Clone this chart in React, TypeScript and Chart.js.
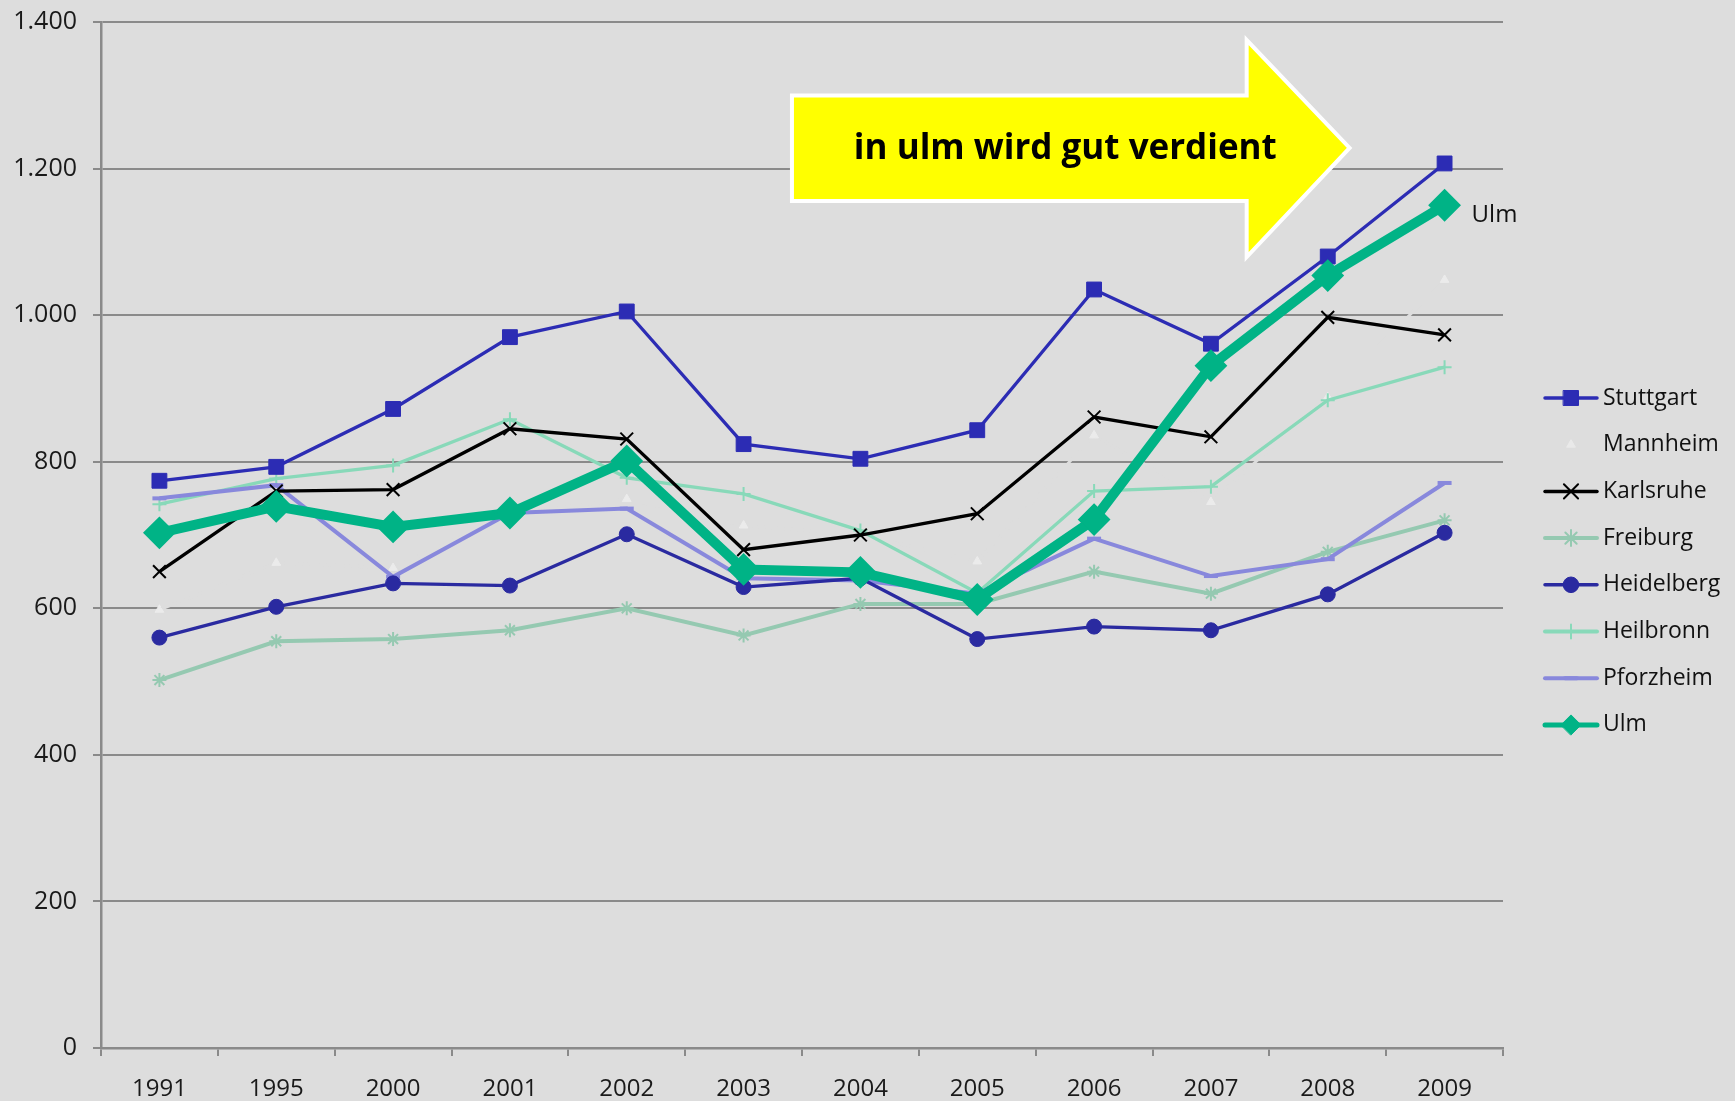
import React, { useEffect, useRef } from "react";
import { Chart, registerables } from "chart.js";
import { drawPoint } from "chart.js/helpers";

Chart.register(...registerables);

const years = ["1991", "1995", "2000", "2001", "2002", "2003", "2004", "2005", "2006", "2007", "2008", "2009"];
const stuttgart = [774, 793, 872, 970, 1005, 824, 804, 843, 1035, 961, 1080, 1207];
const mannheim = [598, 662, 655, 728, 749, 713, 700, 664, 836, 745, 888, 1048];
const karlsruhe = [650, 760, 762, 845, 831, 680, 700, 729, 861, 834, 997, 973];
const freiburg = [502, 555, 558, 570, 600, 563, 606, 606, 650, 620, 677, 720];
const heidelberg = [560, 602, 634, 631, 701, 629, 641, 558, 575, 570, 619, 703];
const heilbronn = [742, 777, 795, 858, 778, 756, 706, 621, 760, 766, 884, 929];
const pforzheim = [750, 768, 643, 730, 736, 641, 638, 620, 695, 644, 667, 771];
const ulm = [703, 739, 711, 730, 801, 653, 649, 612, 721, 931, 1054, 1150];

const yMin = 0;
const yMax = 1400;
const yStep = 200;

const arrowText = "in ulm wird gut verdient";
const endLabel = "Ulm";

const BG = "#dddddd";
const FONT = "'Open Sans', 'Noto Sans', sans-serif";

const fmt = (v: number) => String(v).replace(/\B(?=(\d{3})+(?!\d))/g, ".");

type LegendItem = { label: string; color: string; lw: number; style: string; r: number; bw: number; fill: string; line: boolean };

const overlayPlugin = {
  id: "overlay",
  afterDraw(chart: any) {
    const { ctx, chartArea, scales } = chart;
    const x = scales.x;
    const y = scales.y;
    const px = (i: number) => x.getPixelForValue(i);
    const py = (v: number) => y.getPixelForValue(v);

    // Arrow annotation (positions in category-index / value space)
    const bodyL = 5.414, headB = 9.306, tip = 10.187;
    const bodyT = 1299.7, bodyBt = 1155.7, headT = 1375.4, headBt = 1079.3, tipV = 1228.1;
    ctx.save();
    ctx.beginPath();
    ctx.moveTo(px(bodyL), py(bodyT));
    ctx.lineTo(px(headB), py(bodyT));
    ctx.lineTo(px(headB), py(headT));
    ctx.lineTo(px(tip), py(tipV));
    ctx.lineTo(px(headB), py(headBt));
    ctx.lineTo(px(headB), py(bodyBt));
    ctx.lineTo(px(bodyL), py(bodyBt));
    ctx.closePath();
    ctx.fillStyle = "#ffff00";
    ctx.fill();
    ctx.lineWidth = 4;
    ctx.lineJoin = "miter";
    ctx.strokeStyle = "#ffffff";
    ctx.stroke();
    ctx.fillStyle = "#000000";
    ctx.font = `bold 35px ${FONT}`;
    ctx.textAlign = "center";
    ctx.textBaseline = "middle";
    ctx.fillText(arrowText, px(7.754), py(1226.5));
    ctx.restore();

    // End label for Ulm
    const ulmIdx = chart.data.datasets.findIndex((d: any) => d.label === "Ulm");
    const meta = chart.getDatasetMeta(ulmIdx);
    const last = meta.data[meta.data.length - 1];
    ctx.save();
    ctx.fillStyle = "#111111";
    ctx.font = `24px ${FONT}`;
    ctx.textAlign = "left";
    ctx.textBaseline = "middle";
    ctx.fillText(endLabel, last.x + 27, last.y + 10);
    ctx.restore();

    // Legend
    const items: LegendItem[] = chart.options.plugins.overlay.items;
    const lx0 = chartArea.right + 42;
    const lx1 = lx0 + 52;
    const ly0 = 398;
    const gap = 46.7;
    items.forEach((it, k) => {
      const yy = ly0 + k * gap;
      ctx.save();
      if (it.line) {
        ctx.beginPath();
        ctx.strokeStyle = it.color;
        ctx.lineWidth = it.lw;
        ctx.lineCap = "round";
        ctx.moveTo(lx0, yy);
        ctx.lineTo(lx1, yy);
        ctx.stroke();
      }
      ctx.fillStyle = it.fill;
      ctx.strokeStyle = it.fill;
      ctx.lineWidth = it.bw;
      drawPoint(ctx, { pointStyle: it.style, radius: it.r, rotation: 0, borderWidth: it.bw } as any, (lx0 + lx1) / 2, yy);
      ctx.fillStyle = "#111111";
      ctx.font = `23px ${FONT}`;
      ctx.textAlign = "left";
      ctx.textBaseline = "middle";
      ctx.fillText(it.label, lx1 + 6, yy);
      ctx.restore();
    });
  },
};

export default function App() {
  const ref = useRef<HTMLCanvasElement | null>(null);

  useEffect(() => {
    if (!ref.current) return;
    const ds = (
      label: string,
      data: number[],
      color: string,
      width: number,
      style: string,
      radius: number,
      order: number,
      pbw = 2,
      pointColor?: string
    ) => ({
      label,
      data,
      borderColor: color,
      backgroundColor: pointColor || color,
      borderWidth: width,
      pointStyle: style,
      pointRadius: radius,
      pointBorderWidth: pbw,
      pointBackgroundColor: pointColor || color,
      pointBorderColor: pointColor || color,
      tension: 0,
      fill: false,
      order,
      clip: false,
    });

    const chart = new Chart(ref.current, {
      type: "line",
      data: {
        labels: years,
        datasets: [
          ds("Stuttgart", stuttgart, "#2c2cb4", 3.3, "rect", 10.5, 1, 1),
          ds("Mannheim", mannheim, BG, 3, "triangle", 5, 9, 1, "#ebebeb"),
          ds("Karlsruhe", karlsruhe, "#000000", 3.3, "crossRot", 9, 2, 2),
          ds("Freiburg", freiburg, "#95c9b1", 4, "star", 7, 6, 2),
          ds("Heidelberg", heidelberg, "#2a2aa0", 3.3, "circle", 7.5, 3, 1),
          ds("Heilbronn", heilbronn, "#88d9b9", 3.3, "cross", 7, 5, 2),
          ds("Pforzheim", pforzheim, "#8888dc", 4, "line", 7, 4, 4),
          ds("Ulm", ulm, "#00b386", 10, "rectRot", 15, 0, 2),
        ],
      },
      options: {
        responsive: false,
        animation: false,
        devicePixelRatio: 1,
        events: [],
        layout: { padding: { left: 0, right: 232, top: 22, bottom: 0 } },
        plugins: {
          legend: { display: false },
          tooltip: { enabled: false },
          overlay: {
            items: [
              { label: "Stuttgart", color: "#2c2cb4", lw: 3.5, style: "rect", r: 10.6, bw: 1, fill: "#2c2cb4", line: true },
              { label: "Mannheim", color: BG, lw: 3, style: "triangle", r: 5, bw: 1, fill: "#e9e9e9", line: false },
              { label: "Karlsruhe", color: "#000000", lw: 3.5, style: "crossRot", r: 10, bw: 2, fill: "#000000", line: true },
              { label: "Freiburg", color: "#95c9b1", lw: 4, style: "star", r: 8, bw: 2, fill: "#95c9b1", line: true },
              { label: "Heidelberg", color: "#2a2aa0", lw: 3.5, style: "circle", r: 7.8, bw: 1, fill: "#2a2aa0", line: true },
              { label: "Heilbronn", color: "#88d9b9", lw: 4, style: "cross", r: 7, bw: 2, fill: "#88d9b9", line: true },
              { label: "Pforzheim", color: "#8888dc", lw: 4, style: "line", r: 6, bw: 4, fill: "#8888dc", line: true },
              { label: "Ulm", color: "#00b386", lw: 5, style: "rectRot", r: 10, bw: 1, fill: "#00b386", line: true },
            ],
          },
        } as any,
        scales: {
          x: {
            offset: true,
            grid: {
              offset: true,
              drawOnChartArea: false,
              drawTicks: true,
              tickLength: 8,
              color: "#8a8a8a",
              lineWidth: 2,
            },
            border: { color: "#8a8a8a", width: 2.5 },
            ticks: {
              color: "#1a1a1a",
              font: { family: FONT, size: 24 },
              padding: 19,
              maxRotation: 0,
              autoSkip: false,
            },
            afterFit: (s: any) => {
              s.height = 53;
              s.paddingLeft = 0;
              s.paddingRight = 0;
            },
          },
          y: {
            min: yMin,
            max: yMax,
            grid: { color: "#8a8a8a", lineWidth: 2, tickLength: 8, drawTicks: true },
            border: { color: "#8a8a8a", width: 2.5 },
            ticks: {
              stepSize: yStep,
              color: "#1a1a1a",
              font: { family: FONT, size: 25 },
              padding: 16,
              callback: (v: any) => fmt(Number(v)),
            },
            afterFit: (s: any) => {
              s.width = 101;
              s.paddingTop = 0;
              s.paddingBottom = 0;
            },
          },
        },
      },
      plugins: [overlayPlugin],
    });
    return () => chart.destroy();
  }, []);

  return (
    <div
      style={{
        position: "absolute",
        left: 0,
        top: 0,
        width: 1735,
        height: 1101,
        background: BG,
        overflow: "hidden",
      }}
    >
      <canvas ref={ref} width={1735} height={1101} style={{ display: "block" }} />
    </div>
  );
}
